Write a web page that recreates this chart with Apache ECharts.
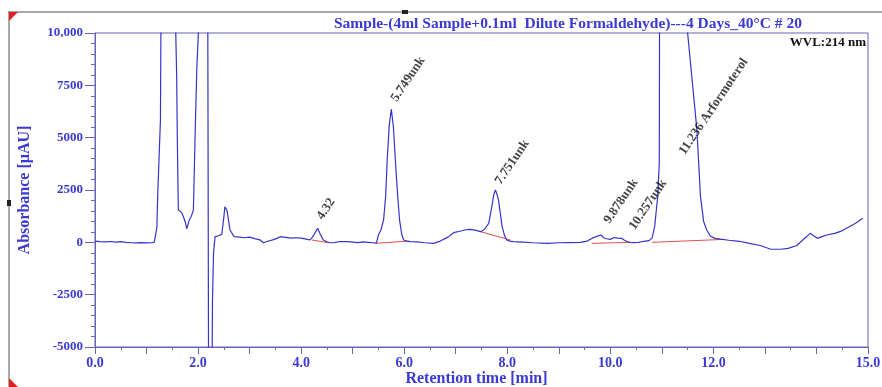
<!DOCTYPE html>
<html><head><meta charset="utf-8">
<script src="https://cdn.jsdelivr.net/npm/echarts@6/dist/echarts.min.js"></script>
<style>html,body{margin:0;padding:0;background:#fff}#c{width:882px;height:387px}</style>
</head><body><div id="c"></div>
<script>
// Retention times (min) and absorbance (µAU) of the chromatogram trace
const times = [0.00,0.10,0.20,0.30,0.40,0.50,0.60,0.70,0.80,0.90,1.00,1.10,1.15,1.17,1.20,1.22,1.25,1.27,1.30,1.40,1.50,1.567,1.585,1.597,1.617,1.65,1.68,1.72,1.76,1.78,1.80,1.83,1.87,1.909,1.942,1.975,2.006,2.10,2.185,2.205,2.24,2.266,2.28,2.30,2.33,2.38,2.46,2.49,2.50,2.52,2.56,2.62,2.70,2.80,2.90,3.00,3.10,3.20,3.27,3.35,3.45,3.53,3.59,3.70,3.80,3.90,4.00,4.10,4.17,4.22,4.27,4.32,4.37,4.43,4.50,4.56,4.65,4.75,4.89,5.00,5.10,5.20,5.30,5.40,5.46,5.50,5.55,5.60,5.64,5.67,5.71,5.75,5.79,5.84,5.88,5.91,5.95,5.99,6.05,6.12,6.25,6.40,6.57,6.70,6.85,6.96,7.10,7.20,7.28,7.38,7.48,7.55,7.64,7.70,7.74,7.77,7.80,7.83,7.87,7.90,7.95,7.99,8.05,8.12,8.30,8.50,8.77,9.00,9.20,9.42,9.55,9.65,9.75,9.82,9.87,9.93,10.00,10.07,10.15,10.22,10.26,10.32,10.38,10.45,10.55,10.65,10.75,10.81,10.86,10.92,10.95,10.97,11.00,11.10,11.30,11.50,11.68,11.75,11.81,11.87,11.94,12.03,12.14,12.30,12.50,12.70,12.91,13.10,13.30,13.45,13.62,13.75,13.88,13.95,14.02,14.08,14.20,14.35,14.47,14.60,14.75,14.90,15.00];
const absorbance = [60,30,20,40,10,30,0,-20,-30,-10,-30,-20,0,80,700,2500,4500,5850,20000,30000,20000,10000,7900,5030,1540,1450,1420,1200,900,640,700,1070,1250,1540,5050,8240,10000,30000,15000,-8000,-8000,-8000,-2760,-510,270,300,380,440,1200,1700,1540,590,270,250,220,250,180,120,-20,50,120,190,270,240,200,220,200,150,110,250,450,670,400,110,30,-20,-10,40,30,10,-10,20,0,-20,-40,350,600,1070,2200,3940,5600,6360,5530,3460,2000,1070,400,110,60,30,20,-20,-50,60,250,460,540,600,620,580,510,600,910,1700,2300,2500,2300,2020,1300,750,300,110,60,30,10,-20,-50,-20,-10,0,60,200,300,350,220,170,140,230,200,190,120,40,0,-20,0,50,80,200,750,2200,3780,30000,30000,30000,30000,10000,5370,2180,1000,590,300,190,150,100,50,-50,-150,-320,-330,-290,-150,150,430,300,190,250,350,430,520,700,900,1150];
// Integration baselines (red): [start time, start value] -> [end time, end value]
const baselineStart = [[4.21,110],[5.44,-50],[7.48,510],[9.64,-50],[10.08,-20],[10.81,0]];
const baselineEnd   = [[4.53,-20],[6.08,60],[8.06,110],[10.08,-20],[10.48,0],[12.20,140]];
// Peak annotations
const peakNames = ['4.32','5.749unk','7.751unk','9.878unk','10.257unk','11.236 Arformoterol'];
const peakLabelPos = [[4.29,1160],[5.73,6800],[7.75,2840],[9.86,970],[10.35,680],[11.32,4270]];
const xTickLabels = ['0.0','2.0','4.0','6.0','8.0','10.0','12.0','15.0'];
const xTickValues = [0,2,4,6,8,10,12,15];

const BLUE = '#3a3ad2';
const AX = '#6565b8';
const trace = times.map((t,i)=>[t,absorbance[i]]);
const baseSeries = baselineStart.map((s,i)=>({
  type:'line', data:[s, baselineEnd[i]], symbol:'none', silent:true,
  lineStyle:{color:'#e0504a', width:1}, z:3
}));
const chart = echarts.init(document.getElementById('c'), null, {renderer:'canvas'});
chart.setOption({
  animation:false,
  title:{text:'Sample-(4ml Sample+0.1ml  Dilute Formaldehyde)---4 Days_40\u00B0C # 20',
    left:329, top:11, textStyle:{color:BLUE, fontFamily:'Liberation Serif', fontWeight:'bold', fontSize:15.5}},
  grid:{left:95, right:14, top:33, bottom:40, containLabel:false, outerBoundsMode:'none',
    show:true, borderColor:AX, borderWidth:1},
  xAxis:{type:'value', min:0, max:15, interval:1,
    name:'Retention time [min]', nameLocation:'middle', nameGap:24, nameMoveOverlap:false,
    nameTextStyle:{color:BLUE, fontFamily:'Liberation Serif', fontWeight:'bold', fontSize:16, padding:[0,10,0,0]},
    axisLine:{onZero:false, lineStyle:{color:AX}},
    axisTick:{length:7, lineStyle:{color:AX}},
    minorTick:{show:true, splitNumber:2, length:3, lineStyle:{color:AX}},
    splitLine:{show:false},
    axisLabel:{color:BLUE, fontFamily:'Liberation Serif', fontWeight:'bold', fontSize:14, margin:9,
      showMaxLabel:true,
      formatter:v=>{const k=xTickValues.indexOf(v); return k>=0?xTickLabels[k]:'';}}},
  yAxis:{type:'value', min:-5000, max:10000, interval:2500,
    name:'Absorbance [\u00B5AU]', nameLocation:'middle', nameGap:62, nameRotate:90, nameMoveOverlap:false,
    nameTextStyle:{color:BLUE, fontFamily:'Liberation Serif', fontWeight:'bold', fontSize:16},
    axisLine:{show:true, lineStyle:{color:AX}},
    axisTick:{length:10, lineStyle:{color:AX}},
    minorTick:{show:true, splitNumber:5, length:4, lineStyle:{color:AX}},
    splitLine:{show:false},
    axisLabel:{color:BLUE, fontFamily:'Liberation Serif', fontWeight:'bold', fontSize:13, margin:12,
      formatter:v=>v===10000?'10,000':String(v)}},
  graphic:[
    {type:'line', shape:{x1:8,y1:12,x2:882,y2:12}, style:{stroke:'#555',lineWidth:1}},
    {type:'line', shape:{x1:9,y1:12,x2:9,y2:387}, style:{stroke:'#555',lineWidth:1}},
    {type:'polygon', shape:{points:[[9,12],[18,12],[9,21]]}, style:{fill:'#e02020'}},
    {type:'polygon', shape:{points:[[9,378],[9,387],[18,387]]}, style:{fill:'#e02020'}},
    {type:'rect', shape:{x:402,y:10,width:6,height:4}, style:{fill:'#222'}},
    {type:'rect', shape:{x:7,y:200,width:4,height:6}, style:{fill:'#222'}},
    {type:'text', right:16, top:36, style:{text:'WVL:214 nm', fill:'#111', font:'bold 13px "Liberation Serif"'}}
  ],
  series:[
    {type:'line', data:trace, symbol:'none', clip:true, z:4,
      lineStyle:{color:'#3434c8', width:1.2}},
    ...baseSeries,
    {type:'scatter', symbolSize:0, z:5, silent:true,
      data:peakLabelPos.map((p,i)=>({value:p, name:peakNames[i]})),
      label:{show:true, position:[9,4], rotate:56, align:'left', verticalAlign:'bottom',
        formatter:p=>p.name, color:'#111', fontFamily:'Liberation Serif', fontWeight:'bold', fontSize:13}}
  ]
});
</script></body></html>
